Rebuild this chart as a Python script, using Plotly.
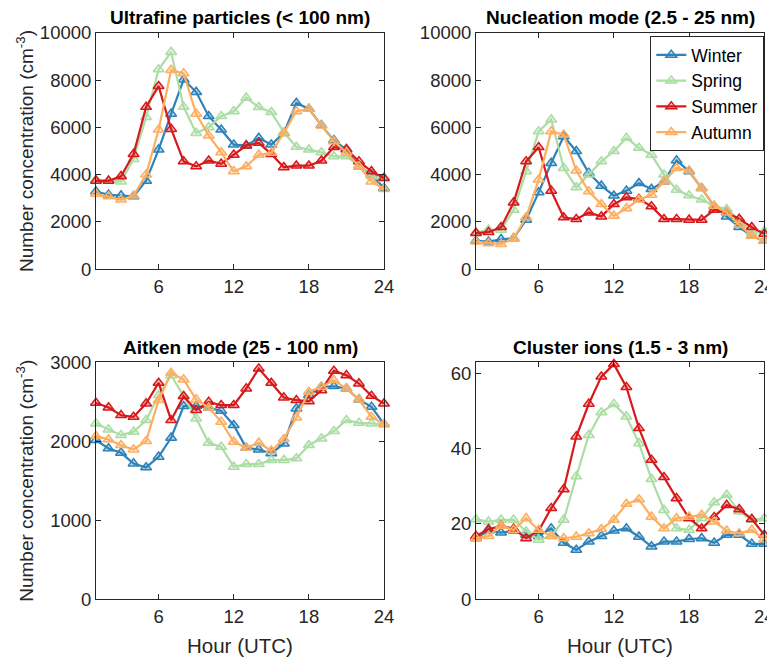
import plotly.graph_objects as go

hours = list(range(1, 25))
seasons = ["Winter", "Spring", "Summer", "Autumn"]
colors = {"Winter": "#2b83ba", "Spring": "#abdda4", "Summer": "#d7191c", "Autumn": "#fdae61"}
fills = {"Winter": "rgba(43,131,186,0.3)", "Spring": "rgba(171,221,164,0.3)",
         "Summer": "rgba(215,25,28,0.3)", "Autumn": "rgba(253,174,97,0.3)"}

ufp_winter = [3290, 3150, 3120, 3080, 3740, 5060, 6570, 8020, 7490, 6470, 5900, 5270,
              5230, 5550, 5270, 5760, 7030, 6780, 6090, 5450, 5060, 4350, 4000, 3430]
ufp_spring = [3790, 3740, 3710, 4660, 6430, 8450, 9180, 6860, 5760, 6000, 6470, 6680,
              7250, 6850, 6640, 5790, 5170, 5060, 4940, 4770, 4770, 4380, 3930, 3810]
ufp_summer = [3740, 3740, 3930, 4870, 6860, 7740, 5930, 4560, 4350, 4590, 4460, 4840,
              5230, 5340, 4870, 4310, 4380, 4380, 4590, 5160, 5080, 4560, 4140, 3860]
ufp_autumn = [3190, 3080, 2940, 3110, 4000, 5900, 8420, 8280, 6570, 5650, 4940, 4140,
              4350, 4840, 4920, 5760, 6680, 6780, 6070, 5410, 4940, 4350, 3710, 3390]

nuc_winter = [1200, 1170, 1270, 1310, 2090, 3250, 4490, 5620, 4990, 4070, 3530, 3110,
              3320, 3640, 3390, 3710, 4600, 4140, 3430, 2660, 2230, 1780, 1410, 1200]
nuc_spring = [1550, 1670, 1670, 2510, 4140, 5830, 6330, 4280, 3460, 4000, 4560, 4990,
              5550, 5130, 4840, 4000, 3360, 3120, 2940, 2680, 2540, 2090, 1550, 1620]
nuc_summer = [1530, 1570, 1780, 2820, 4560, 5160, 3320, 2190, 2120, 2400, 2230, 2750,
              3040, 2970, 2660, 2120, 2120, 2090, 2090, 2510, 2400, 2130, 1780, 1500]
nuc_autumn = [1170, 1100, 1060, 1310, 2200, 3790, 5830, 5690, 4170, 3290, 2750, 2260,
              2580, 2940, 3150, 3710, 4280, 4170, 3430, 2680, 2400, 1880, 1410, 1200]

ait_winter = [2014, 1909, 1854, 1719, 1669, 1804, 2044, 2444, 2444, 2427, 2385, 2204,
              1917, 1896, 1846, 1972, 2415, 2583, 2689, 2697, 2668, 2528, 2436, 2217]
ait_spring = [2225, 2149, 2078, 2120, 2267, 2583, 2836, 2571, 2288, 1981, 1930, 1677,
              1711, 1711, 1762, 1762, 1783, 1951, 2035, 2128, 2267, 2233, 2225, 2217]
ait_summer = [2486, 2427, 2330, 2309, 2478, 2739, 2267, 2571, 2394, 2499, 2457, 2457,
              2668, 2920, 2739, 2554, 2520, 2507, 2646, 2891, 2836, 2731, 2575, 2478]
ait_autumn = [2065, 2023, 1951, 1896, 2002, 2520, 2866, 2781, 2528, 2427, 2246, 1993,
              1917, 1981, 1880, 2027, 2301, 2625, 2689, 2773, 2668, 2528, 2309, 2217]

ion_winter = [16.2, 18.2, 17.7, 18.2, 17.1, 16.8, 18.8, 15.0, 13.1, 15.3, 16.8, 18.2,
              18.8, 16.6, 14.0, 15.3, 15.3, 16.0, 16.2, 15.0, 17.1, 17.1, 14.7, 14.7]
ion_spring = [21.2, 20.6, 21.1, 21.1, 18.0, 15.8, 16.8, 21.1, 32.6, 43.6, 49.6, 51.8,
              48.5, 41.4, 31.9, 23.7, 18.8, 18.4, 21.5, 25.7, 27.7, 23.3, 21.1, 21.5]
ion_summer = [16.8, 18.6, 19.5, 18.7, 16.2, 18.2, 24.2, 29.2, 43.2, 51.9, 59.1, 62.4,
              56.3, 45.4, 37.0, 32.4, 26.8, 21.5, 18.8, 21.8, 25.0, 23.9, 21.3, 17.1]
ion_autumn = [16.2, 16.8, 19.5, 18.4, 21.5, 18.4, 16.8, 16.2, 16.6, 17.5, 18.6, 21.1,
              25.3, 26.5, 21.9, 18.8, 21.5, 21.9, 22.4, 20.6, 18.2, 17.5, 18.4, 15.9]

panel_titles = ["Ultrafine particles (< 100 nm)", "Nucleation mode (2.5 - 25 nm)",
                "Aitken mode (25 - 100 nm)", "Cluster ions (1.5 - 3 nm)"]
panel_data = [
    [ufp_winter, ufp_spring, ufp_summer, ufp_autumn],
    [nuc_winter, nuc_spring, nuc_summer, nuc_autumn],
    [ait_winter, ait_spring, ait_summer, ait_autumn],
    [ion_winter, ion_spring, ion_summer, ion_autumn],
]
y_ranges = [[0, 10000], [0, 10000], [0, 3000], [0, 62.9]]
y_ticks = [[0, 2000, 4000, 6000, 8000, 10000], [0, 2000, 4000, 6000, 8000, 10000],
           [0, 1000, 2000, 3000], [0, 20, 40, 60]]
x_ticks = [6, 12, 18, 24]

# page body has an 8px margin: lay the figure out in page pixels, shifted by OFF
OFF = 8
W, H = 775 - OFF, 659 - OFF


def px(x):
    return (x - OFF) / W


def py(y):
    return 1 - (y - OFF) / H


# pixel boxes in page coordinates: (left, right, top, bottom)
boxes = [(96, 384, 32.7, 269.3), (476, 764.3, 32.7, 269.3),
         (96, 384, 362.3, 599.3), (476, 764.3, 362.3, 599.3)]
title_y = [17, 17, 347, 347]

TXT = "#262626"
FONT = "Liberation Sans, Arial, sans-serif"

fig = go.Figure()
layout = dict(
    width=W, height=H, margin=dict(l=0, r=0, t=0, b=0, pad=0, autoexpand=False),
    paper_bgcolor="white", plot_bgcolor="white",
    font=dict(family=FONT, color=TXT, size=18),
    showlegend=True,
    legend=dict(x=px(764.3), xanchor="right", y=py(36), yanchor="top",
                bgcolor="white", bordercolor=TXT, borderwidth=1,
                font=dict(size=17.5, color="#000000", family=FONT),
                itemwidth=30, tracegroupgap=0),
)
annotations = []
for i in range(4):
    l, r, t, b = boxes[i]
    xa = "xaxis" if i == 0 else f"xaxis{i+1}"
    ya = "yaxis" if i == 0 else f"yaxis{i+1}"
    xref = "x" if i == 0 else f"x{i+1}"
    yref = "y" if i == 0 else f"y{i+1}"
    common = dict(showline=True, linecolor=TXT, linewidth=1, mirror="ticks",
                  ticks="inside", ticklen=5, tickcolor=TXT, showgrid=False,
                  zeroline=False, automargin=False, tickformat="d",
                  tickfont=dict(size=18.5, color=TXT, family=FONT))
    layout[xa] = dict(domain=[px(l), px(r)], anchor=yref, range=[1, 24],
                      tickvals=x_ticks, **common)
    layout[ya] = dict(domain=[py(b), py(t)], anchor=xref, range=y_ranges[i],
                      tickvals=y_ticks[i], **common)
    for s, vals in zip(seasons, panel_data[i]):
        fig.add_trace(go.Scatter(
            x=hours, y=vals, mode="lines+markers", name=s,
            line=dict(color=colors[s], width=2.2),
            marker=dict(symbol="triangle-up", size=9.5, color=fills[s],
                        line=dict(color=colors[s], width=1.5)),
            showlegend=(i == 1), xaxis=xref, yaxis=yref, cliponaxis=False))
    annotations.append(dict(text="<b>" + panel_titles[i] + "</b>", xref="paper", yref="paper",
                            x=px((l + r) / 2), y=py(title_y[i]), xanchor="center",
                            yanchor="middle", showarrow=False,
                            font=dict(size=19, color="#000000", family=FONT)))
for (l, r, t, b) in [boxes[0], boxes[2]]:
    annotations.append(dict(text="Number concentration (cm<sup>-3</sup>)", xref="paper",
                            yref="paper", x=px(25), y=py((t + b) / 2), textangle=-90,
                            xanchor="center", yanchor="middle", showarrow=False,
                            font=dict(size=19, color=TXT, family=FONT)))
for (l, r, t, b) in [boxes[2], boxes[3]]:
    annotations.append(dict(text="Hour (UTC)", xref="paper", yref="paper",
                            x=px((l + r) / 2), y=py(645), xanchor="center",
                            yanchor="middle", showarrow=False,
                            font=dict(size=20.5, color=TXT, family=FONT)))
layout["annotations"] = annotations
fig.update_layout(**layout)
fig.write_html("out.html")
